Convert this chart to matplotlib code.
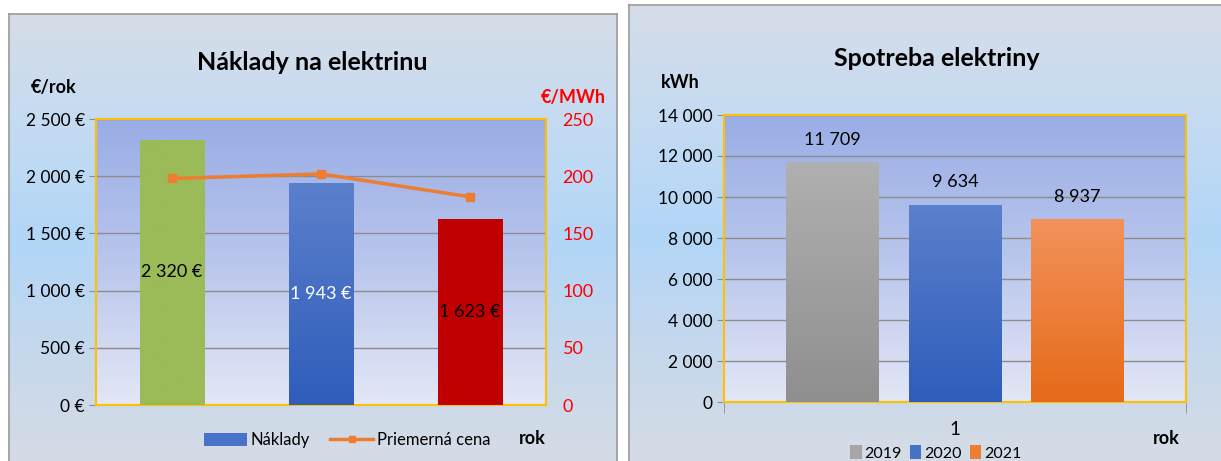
import matplotlib
matplotlib.use("Agg")
import matplotlib.pyplot as plt
import numpy as np
from matplotlib.ticker import FuncFormatter
from matplotlib.patches import Patch
from matplotlib.lines import Line2D
from matplotlib.colors import LinearSegmentedColormap

plt.rcParams['font.family'] = ['Lato', 'DejaVu Sans']

# left chart data
years = ["2019", "2020", "2021"]
costs = [2320, 1943, 1623]
avg_price = [198, 202, 182]
cost_labels = ["2 320 €", "1 943 €", "1 623 €"]
# right chart data
consumption = [11709, 9634, 8937]
consumption_labels = ["11 709", "9 634", "8 937"]

W, H = 1221, 461
fig = plt.figure(figsize=(W / 100, H / 100), dpi=100)


def px(x0, y0, x1, y1):
    # pixel box -> figure coords
    return [x0 / W, 1 - y1 / H, (x1 - x0) / W, (y1 - y0) / H]


def vgrad(ax, extent, colors, clip=None, z=0):
    cmap = LinearSegmentedColormap.from_list("g", colors)
    img = ax.imshow(np.linspace(0, 1, 256).reshape(-1, 1), cmap=cmap, aspect="auto",
                    extent=extent, origin="upper", zorder=z, interpolation="bilinear")
    if clip is not None:
        img.set_clip_path(clip)
    return img


def thousands(v, suffix=""):
    s = f"{int(round(v)):,}".replace(",", " ")
    return s + suffix


panel_colors = ["#d6dde8", "#c4dbf2", "#b2d6f7", "#c6d8ec", "#d6dce5"]
area_colors = ["#99ade6", "#b9c6ec", "#e3e7f6"]
gold = "#ffc000"

# background panels
for box in [(9, 14, 617, 470), (629, 5, 1230, 470)]:
    bg = fig.add_axes(px(*box), zorder=0)
    vgrad(bg, [0, 1, 0, 1], panel_colors)
    bg.set_xlim(0, 1)
    bg.set_ylim(0, 1)
    bg.set_xticks([])
    bg.set_yticks([])
    for s in bg.spines.values():
        s.set_color("#9a9a9a")
        s.set_linewidth(1.2)

# ---------------- left chart ----------------
ax1 = fig.add_axes(px(96, 119, 546, 405), zorder=2)
x = np.arange(len(years))
ax1.set_xlim(-0.51, 2.51)
ax1.set_ylim(0, 2500)
vgrad(ax1, [-0.51, 2.51, 0, 2500], area_colors, z=0)
ax1.set_yticks(np.arange(0, 2501, 500))
ax1.yaxis.grid(True, color="#8c8c8c", linewidth=1, zorder=1)
ax1.set_axisbelow(True)
ax1.yaxis.set_major_formatter(FuncFormatter(lambda v, p: thousands(v, " €")))
ax1.set_xticks([])
ax1.tick_params(axis="y", labelsize=12.5, length=5, color="#8c8c8c", pad=3)
for s in ax1.spines.values():
    s.set_color(gold)
    s.set_linewidth(1.5)

bar_grads = [["#9bbb59", "#9bbb59"], ["#5b80cc", "#2f5dbb"], ["#c00000", "#c00000"]]
bars = ax1.bar(x, costs, width=0.43, color="none", zorder=3)
for b, g in zip(bars, bar_grads):
    vgrad(ax1, [b.get_x(), b.get_x() + b.get_width(), 0, b.get_height()], g, clip=b, z=3)
for xi, c, lab, col in zip(x, costs, cost_labels, ["black", "white", "black"]):
    ax1.text(xi, c / 2, lab, ha="center", va="center", fontsize=13, color=col, zorder=5)

ax2 = ax1.twinx()
ax2.set_ylim(0, 250)
ax2.set_yticks(np.arange(0, 251, 50))
ax2.tick_params(axis="y", labelsize=13, colors="#ff0000", length=0, pad=12)
for s in ax2.spines.values():
    s.set_visible(False)
ax2.plot(x, avg_price, color="#ed7d31", linewidth=2.5, marker="s", markersize=6, zorder=6)
ax1.set_xlim(-0.51, 2.51)

fig.text(312 / W, 1 - 62 / H, "Náklady na elektrinu", ha="center", va="center",
         fontsize=18, fontweight="bold")
fig.text(54 / W, 1 - 88 / H, "€/rok", ha="center", va="center", fontsize=13, fontweight="bold")
fig.text(573 / W, 1 - 97 / H, "€/MWh", ha="center", va="center", fontsize=13,
         fontweight="bold", color="#ff0000")
fig.text(532 / W, 1 - 438 / H, "rok", ha="center", va="center", fontsize=13, fontweight="bold")
handles1 = [Patch(facecolor="#4a72c8", edgecolor="none"),
            Line2D([], [], color="#ed7d31", linewidth=2.5, marker="s", markersize=5)]
fig.legend(handles1, ["Náklady", "Priemerná cena"], loc="center",
           bbox_to_anchor=(347 / W, 1 - 440 / H), ncol=2, frameon=False, fontsize=12,
           handlelength=2.6, handleheight=0.8, handletextpad=0.2, columnspacing=1.2)

# ---------------- right chart ----------------
ax3 = fig.add_axes(px(724, 115, 1186, 402), zorder=2)
ax3.set_xlim(0.5, 1.5)
ax3.set_ylim(0, 14000)
vgrad(ax3, [0.5, 1.5, 0, 14000], area_colors, z=0)
ax3.set_yticks(np.arange(0, 14001, 2000))
ax3.yaxis.grid(True, color="#8c8c8c", linewidth=1)
ax3.set_axisbelow(True)
ax3.yaxis.set_major_formatter(FuncFormatter(lambda v, p: thousands(v)))
ax3.tick_params(axis="y", labelsize=12.5, length=5, color="#8c8c8c", pad=3)
ax3.set_xticks([1])
ax3.set_xticklabels(["1"])
ax3.set_xticks([0.5, 1.5], minor=True)
ax3.tick_params(axis="x", which="major", length=0, labelsize=13.5, pad=14)
ax3.tick_params(axis="x", which="minor", length=8, color="#8c8c8c")
for s in ax3.spines.values():
    s.set_color(gold)
    s.set_linewidth(1.5)

offsets = [-0.265, 0.0, 0.265]
cons_grads = [["#b0b0b0", "#8f8f8f"], ["#5b80cc", "#2f5dbb"], ["#f2925c", "#e66a18"]]
cons_colors = ["#a5a5a5", "#4472c4", "#ed7d31"]
for off, val, lab, g in zip(offsets, consumption, consumption_labels, cons_grads):
    b = ax3.bar(1 + off, val, width=0.2, color="none", zorder=3)[0]
    vgrad(ax3, [b.get_x(), b.get_x() + b.get_width(), 0, val], g, clip=b, z=3)
    ax3.annotate(lab, (1 + off, val), xytext=(0, 16), textcoords="offset points",
                 ha="center", va="center", fontsize=13, zorder=5)
ax3.set_xlim(0.5, 1.5)

fig.text(937 / W, 1 - 58 / H, "Spotreba elektriny", ha="center", va="center",
         fontsize=18, fontweight="bold")
fig.text(680 / W, 1 - 83 / H, "kWh", ha="center", va="center", fontsize=13, fontweight="bold")
fig.text(1166 / W, 1 - 438 / H, "rok", ha="center", va="center", fontsize=13, fontweight="bold")
handles2 = [Patch(facecolor=c, edgecolor="none") for c in cons_colors]
fig.legend(handles2, years, loc="center", bbox_to_anchor=(936 / W, 1 - 453 / H), ncol=3,
           frameon=False, fontsize=11.5, handlelength=0.7, handleheight=0.9,
           handletextpad=0.2, columnspacing=0.5)

fig.savefig("out.png", dpi=100)
